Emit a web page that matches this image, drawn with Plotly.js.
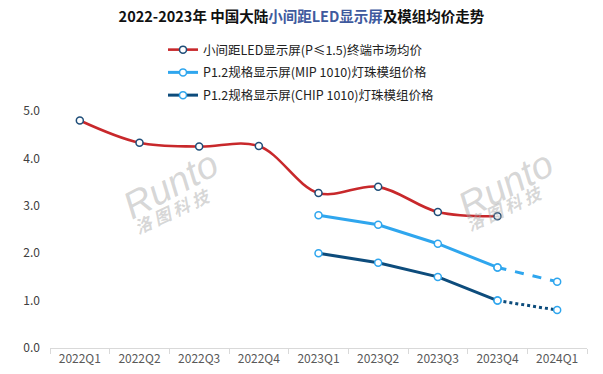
<!DOCTYPE html>
<html><head><meta charset="utf-8">
<script src="https://cdn.plot.ly/plotly-3.0.1.min.js"></script>
<style>html,body{margin:0;padding:0;background:#fff}#c{width:603px;height:374px}</style>
</head><body><div id="c"></div>
<script>
const categories = ["2022Q1","2022Q2","2022Q3","2022Q4","2023Q1","2023Q2","2023Q3","2023Q4","2024Q1"];
const redName = "小间距LED显示屏(P≤1.5)终端市场均价";
const mipName = "P1.2规格显示屏(MIP 1010)灯珠模组价格";
const chipName = "P1.2规格显示屏(CHIP 1010)灯珠模组价格";
const redValues = [4.8, 4.33, 4.25, 4.26, 3.27, 3.40, 2.87, 2.78];
const mipValues = [null, null, null, null, 2.8, 2.6, 2.2, 1.7];
const mipForecast = [null, null, null, null, null, null, null, 1.7, 1.4];
const chipValues = [null, null, null, null, 2.0, 1.8, 1.5, 1.0];
const chipForecast = [null, null, null, null, null, null, null, 1.0, 0.8];

const RED = "#C8282B", LB = "#2FA6EE", DB = "#0D4C7C";
const mk = (line) => ({symbol: "circle", size: 7, color: "#fff", line: {color: line, width: 1.5}});

const traces = [
  {x: categories.slice(0, redValues.length), y: redValues, name: redName, type: "scatter", mode: "lines+markers",
   legendgroup: "a", line: {color: RED, width: 2.6, shape: "spline", smoothing: 1}, marker: mk("#1F4E79")},
  {x: categories, y: mipForecast, type: "scatter", mode: "lines+markers", showlegend: false, legendgroup: "b",
   line: {color: LB, width: 3, dash: "dash"}, marker: mk(LB)},
  {x: categories, y: chipForecast, type: "scatter", mode: "lines+markers", showlegend: false, legendgroup: "c",
   line: {color: DB, width: 3, dash: "dot"}, marker: mk(LB)},
  {x: categories, y: mipValues, name: mipName, type: "scatter", mode: "lines+markers", legendgroup: "b",
   line: {color: LB, width: 3}, marker: mk(LB)},
  {x: categories, y: chipValues, name: chipName, type: "scatter", mode: "lines+markers", legendgroup: "c",
   line: {color: DB, width: 3}, marker: mk(LB)}
];

const WMC = "rgba(165,165,165,0.45)";
const wm = (px, py, cx, cy) => ([
  {x: px, y: py, xref: "paper", yref: "paper", text: "Runto", showarrow: false, textangle: -28,
   xanchor: "center", yanchor: "middle",
   font: {family: "Liberation Sans", size: 38, color: WMC, style: "italic"}},
  {x: cx, y: cy, xref: "paper", yref: "paper", text: "洛 图 科 技", showarrow: false, textangle: -25,
   xanchor: "center", yanchor: "middle",
   font: {family: "Noto Sans CJK SC", size: 17, color: WMC, style: "italic", weight: "bold"}}
]);
const px = (v) => (v - 50) / 537, py = (v) => (348 - v) / 237;

const layout = {
  width: 603, height: 374,
  margin: {l: 50, r: 16, t: 111, b: 26},
  paper_bgcolor: "#fff", plot_bgcolor: "#fff",
  font: {family: "Noto Sans CJK SC, sans-serif", size: 12, color: "#595959"},
  title: {text: '2022-2023年 中国大陆<span style="color:#3F5A9E">小间距LED显示屏</span>及模组均价走势',
    font: {family: "Noto Sans CJK SC", size: 14.5, color: "#111", weight: "bold"},
    xref: "container", x: 0.5, xanchor: "center", yref: "container", y: 1 - 17/374, yanchor: "middle"},
  showlegend: true,
  legend: {x: px(163), xanchor: "left", y: py(35), yanchor: "top", bgcolor: "rgba(0,0,0,0)",
    traceorder: "grouped", tracegroupgap: 3.5,
    font: {family: "Noto Sans CJK SC", size: 12.5, color: "#222"}, itemwidth: 30},
  xaxis: {type: "category", categoryorder: "array", categoryarray: categories, range: [-0.5, 8.5],
    showgrid: false, zeroline: false, showline: true, linecolor: "#D9D9D9", linewidth: 1,
    ticks: "outside", tickson: "boundaries", ticklen: 5, tickcolor: "#D9D9D9",
    tickfont: {size: 12, color: "#595959"}},
  yaxis: {range: [0, 5], dtick: 1, tickformat: ".1f", showgrid: false, zeroline: false, showline: false,
    ticks: "", ticklabelstandoff: 9, tickfont: {size: 12, color: "#404040"}, automargin: false},
  annotations: [...wm(px(170), py(185), px(172), py(210)), ...wm(px(505), py(185), px(504), py(207))]
};

Plotly.newPlot("c", traces, layout, {displayModeBar: false, staticPlot: true});
</script></body></html>
